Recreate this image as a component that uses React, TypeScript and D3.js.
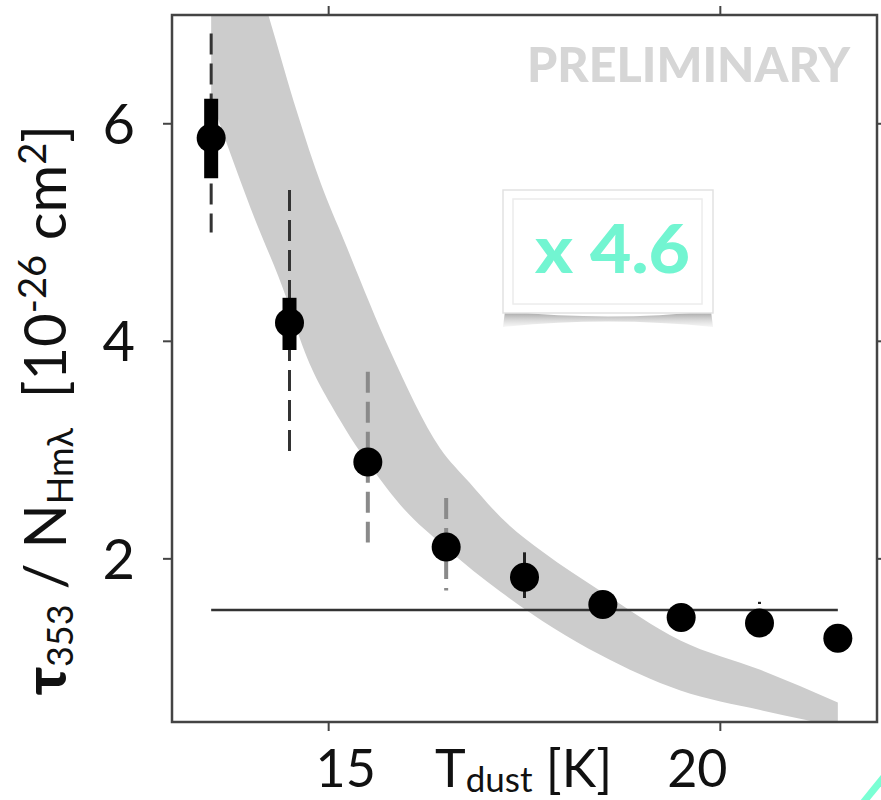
import React from "react";
import * as d3 from "d3";

// ---- data ----
const temps = [13.5, 14.5, 15.5, 16.5, 17.5, 18.5, 19.5, 20.5, 21.5];
const ratio = [5.87, 4.17, 2.89, 2.11, 1.83, 1.58, 1.46, 1.41, 1.27];
const dashLow = [5.0, 2.93, 2.15, 1.71, NaN, NaN, NaN, NaN, NaN];
const dashHigh = [6.83, 5.39, 3.72, 2.56, NaN, NaN, NaN, NaN, NaN];
const dashTone = ["dark", "dark", "light", "light", "", "", "", "", ""];
const thickLow = [5.5, 3.92, NaN, NaN, NaN, NaN, NaN, NaN, NaN];
const thickHigh = [6.23, 4.4, NaN, NaN, NaN, NaN, NaN, NaN, NaN];
const thinLow = [NaN, NaN, NaN, NaN, 1.64, NaN, NaN, 1.585, NaN];
const thinHigh = [NaN, NaN, NaN, NaN, 2.06, NaN, NaN, 1.605, NaN];

const refLevel = 1.53;

const bandUpperT = [13.5, 14.23, 14.6, 14.9, 15.2, 15.78, 16.42, 16.8, 17.2, 17.74, 18.46, 19.49, 20.51, 21.5];
const bandUpperV = [8.7, 7.0, 6.1, 5.45, 4.92, 3.92, 3.02, 2.7, 2.38, 2.06, 1.71, 1.25, 0.98, 0.68];
const bandLowerT = [13.5, 14.0, 14.47, 14.67, 15.14, 15.69, 15.91, 16.5, 17.19, 18.46, 19.49, 20.51, 21.08, 21.5];
const bandLowerV = [6.22, 5.23, 4.38, 3.95, 3.28, 2.7, 2.5, 2.1, 1.7, 1.12, 0.79, 0.61, 0.52, 0.45];

const yTicks = [2, 4, 6];
const xTicks = [15, 20];
const factorLabel = "x 4.6";
const watermark = "PRELIMINARY";

export default function App() {
  const W = 881, H = 800;
  const left = 172, right = 877, top = 15, bottom = 722;
  const x = d3.scaleLinear().domain([13, 22]).range([left, right]);
  const y = d3.scaleLinear().domain([0.5, 7.0]).range([bottom, top]);

  const upper = bandUpperT.map((t, i) => [t, bandUpperV[i]] as [number, number]);
  const lower = bandLowerT.map((t, i) => [t, bandLowerV[i]] as [number, number]).reverse();
  const edge = d3.line<[number, number]>().x(d => x(d[0])).y(d => y(d[1])).curve(d3.curveMonotoneX);
  const upPath = edge(upper) as string;
  const lowPath = (edge(lower) as string).replace(/^M/, "L");
  const bandPath = upPath + lowPath + "Z";

  const xLabelShift = [17, -23];
  const font = "Lato, 'Open Sans', sans-serif";

  return (
    <svg width={W} height={H} style={{ position: "absolute", left: 0, top: 0, background: "#fff" }}>
      <defs>
        <clipPath id="plotClip">
          <rect x={left} y={top} width={right - left} height={bottom - top} />
        </clipPath>
        <linearGradient id="shadowGrad" x1="0" y1="0" x2="0" y2="1">
          <stop offset="0%" stopColor="#8f8f8f" stopOpacity="0.9" />
          <stop offset="100%" stopColor="#cfcfcf" stopOpacity="0.2" />
        </linearGradient>
      </defs>

      {/* band */}
      <g clipPath="url(#plotClip)">
        <path d={bandPath} fill="#cccccc" stroke="none" />
      </g>

      {/* watermark */}
      <text x={527} y={82} fontFamily={font} fontWeight={900} fontSize={48} fill="#d6d6d6"
        textLength={323} lengthAdjust="spacingAndGlyphs">{watermark}</text>

      {/* factor box */}
      <g>
        <path d="M505,311 Q608,322 711,311 L713,327 Q608,316 503,327 Z" fill="url(#shadowGrad)" />
        <rect x={503} y={190} width={210} height={123} fill="#fff" stroke="#e2e2e2" strokeWidth={1.5} />
        <rect x={513} y={199} width={189} height={105} fill="none" stroke="#ececec" strokeWidth={1.5} />
        <text x={535} y={273} fontFamily={font} fontWeight={900} fontSize={66} fill="#72f5d1"
          textLength={155} lengthAdjust="spacingAndGlyphs">{factorLabel}</text>
      </g>

      {/* reference line */}
      <line x1={x(temps[0])} x2={x(temps[temps.length - 1])} y1={y(refLevel)} y2={y(refLevel)}
        stroke="#333" strokeWidth={2.5} />

      {/* error bars */}
      <g clipPath="url(#plotClip)">
        {temps.map((t, i) => isNaN(dashLow[i]) ? null : (
          <line key={"d" + i} x1={x(t)} x2={x(t)} y1={y(dashHigh[i])} y2={y(dashLow[i])}
            stroke={dashTone[i] === "dark" ? "#333" : "#8a8a8a"} strokeWidth={dashTone[i] === "dark" ? 3 : 4}
            strokeDasharray="21 9" />
        ))}
        {temps.map((t, i) => isNaN(thinLow[i]) ? null : (
          <line key={"t" + i} x1={x(t)} x2={x(t)} y1={y(thinHigh[i])} y2={y(thinLow[i])}
            stroke="#222" strokeWidth={3} />
        ))}
        {temps.map((t, i) => isNaN(thickLow[i]) ? null : (
          <line key={"k" + i} x1={x(t)} x2={x(t)} y1={y(thickHigh[i])} y2={y(thickLow[i])}
            stroke="#000" strokeWidth={14} />
        ))}
        {temps.map((t, i) => (
          <circle key={"c" + i} cx={x(t)} cy={y(ratio[i])} r={14.5} fill="#000" />
        ))}
      </g>

      {/* frame */}
      <rect x={left} y={top} width={right - left} height={bottom - top} fill="none" stroke="#444" strokeWidth={2.5} />
      {yTicks.map(v => (
        <g key={"yt" + v}>
          <line x1={left - 9} x2={left} y1={y(v)} y2={y(v)} stroke="#444" strokeWidth={2} />
          <line x1={right} x2={right + 9} y1={y(v)} y2={y(v)} stroke="#444" strokeWidth={2} />
          <text x={135} y={y(v)} dy={20} textAnchor="end" fontFamily={font} fontSize={56} fill="#111">{v}</text>
        </g>
      ))}
      {xTicks.map((v, i) => (
        <g key={"xt" + v}>
          <line x1={x(v)} x2={x(v)} y1={bottom} y2={bottom + 9} stroke="#444" strokeWidth={2} />
          <line x1={x(v)} x2={x(v)} y1={top - 9} y2={top} stroke="#444" strokeWidth={2} />
          <text x={x(v) + xLabelShift[i]} y={787} textAnchor="middle" fontFamily={font} fontSize={52} fill="#111">{v}</text>
        </g>
      ))}

      {/* x label */}
      <text x={435} y={787} fontFamily={font} fontSize={52} fill="#111">
        <tspan>T</tspan>
        <tspan fontSize={35} dy={5}>dust</tspan>
        <tspan dy={-5}>{"\u00a0[K]"}</tspan>
      </text>

      {/* y label */}
      <text transform="translate(66,410) rotate(-90)" textAnchor="middle" fontFamily={font} fontSize={58} fill="#111">
        <tspan fontWeight={900}>τ</tspan>
        <tspan fontSize={36} dy={7}>353</tspan>
        <tspan dy={-7}>{"\u00a0/\u00a0N"}</tspan>
        <tspan fontSize={36} dy={7}>Hmλ</tspan>
        <tspan dy={-7}>{"\u00a0\u00a0[10"}</tspan>
        <tspan fontSize={38} dy={-20}>-26</tspan>
        <tspan dy={20}>{"\u00a0cm"}</tspan>
        <tspan fontSize={38} dy={-20}>2</tspan>
        <tspan dy={20}>]</tspan>
      </text>

      {/* decorative accent */}
      <line x1={862} y1={804} x2={888} y2={772} stroke="#7affd4" strokeWidth={7} />
    </svg>
  );
}
